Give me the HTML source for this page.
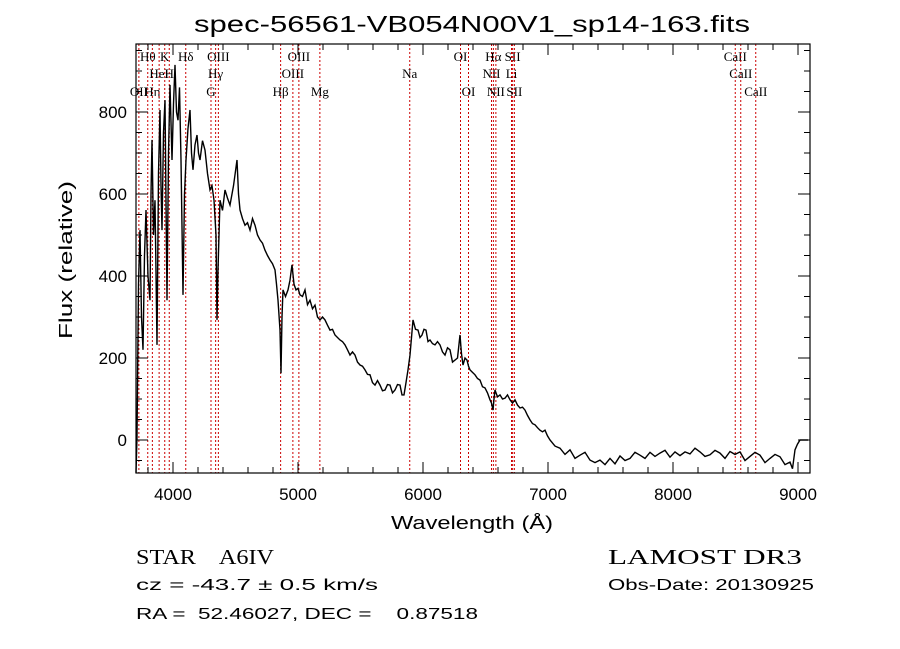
<!DOCTYPE html>
<html><head><meta charset="utf-8"><style>
body{margin:0;background:#fff}
svg{display:block}
text{fill:#000;white-space:pre}
.s{font-family:"Liberation Sans",sans-serif}
.r{font-family:"Liberation Serif",serif}
</style></head><body>
<svg id="chart" width="900" height="649" xmlns="http://www.w3.org/2000/svg" xml:space="preserve">
<rect width="900" height="649" fill="#fff"/>
<text class="s" x="472" y="32" font-size="23" text-anchor="middle" textLength="556" lengthAdjust="spacingAndGlyphs">spec-56561-VB054N00V1_sp14-163.fits</text>
<g id="lines"></g>
<g id="axes"></g>
<path id="spec" fill="none" stroke="#000" stroke-width="1.4" stroke-linejoin="miter"/>
<rect x="136" y="44" width="674" height="429" fill="none" stroke="#000" stroke-width="1.2"/>
<text class="s" x="472" y="529" font-size="18" text-anchor="middle" textLength="162" lengthAdjust="spacingAndGlyphs">Wavelength (Å)</text>
<text class="s" transform="translate(72,260) rotate(-90)" font-size="18" text-anchor="middle" textLength="158" lengthAdjust="spacingAndGlyphs">Flux (relative)</text>
<text class="r" x="136" y="564" font-size="21" textLength="138" lengthAdjust="spacingAndGlyphs">STAR    A6IV</text>
<text class="s" x="136" y="590" font-size="16" textLength="242" lengthAdjust="spacingAndGlyphs">cz = -43.7 ± 0.5 km/s</text>
<text class="s" x="136" y="619" font-size="16" textLength="342" lengthAdjust="spacingAndGlyphs">RA =  52.46027, DEC =    0.87518</text>
<text class="r" x="608" y="564" font-size="21" textLength="194" lengthAdjust="spacingAndGlyphs">LAMOST DR3</text>
<text class="s" x="608" y="590" font-size="16" textLength="206" lengthAdjust="spacingAndGlyphs">Obs-Date: 20130925</text>
</svg>
<script>
const wave=[3704,3712,3724,3736,3748,3760,3772,3784,3800,3816,3824,3832,3844,3856,3872,3884,3896,3904,3912,3924,3936,3952,3964,3976,3992,4004,4016,4028,4040,4052,4064,4080,4092,4104,4120,4136,4148,4160,4176,4192,4204,4216,4236,4256,4276,4296,4312,4328,4344,4352,4360,4376,4396,4416,4436,4456,4484,4512,4524,4536,4556,4576,4596,4616,4636,4656,4676,4696,4716,4736,4756,4776,4796,4816,4828,4840,4856,4864,4872,4880,4900,4920,4936,4952,4968,4984,5000,5016,5036,5056,5076,5096,5116,5136,5156,5176,5196,5216,5236,5256,5276,5296,5316,5336,5356,5376,5396,5416,5436,5456,5476,5496,5516,5536,5556,5576,5596,5616,5636,5656,5676,5696,5716,5736,5756,5776,5796,5816,5832,5848,5864,5880,5896,5920,5940,5960,5976,5992,6008,6024,6040,6056,6076,6096,6116,6136,6156,6176,6196,6216,6236,6256,6276,6296,6308,6320,6336,6352,6364,6376,6396,6416,6436,6456,6476,6496,6516,6536,6548,6560,6568,6576,6596,6616,6636,6656,6676,6696,6716,6736,6756,6776,6796,6816,6836,6856,6876,6896,6916,6936,6956,6976,6996,7016,7056,7096,7136,7176,7216,7256,7296,7336,7376,7416,7456,7496,7536,7576,7616,7656,7696,7736,7776,7816,7856,7896,7936,7976,8016,8056,8096,8136,8176,8216,8256,8296,8336,8376,8416,8456,8496,8536,8576,8616,8656,8696,8736,8776,8816,8856,8896,8936,8956,8976,8996,9016,9080];
const flux=[-80,7,380,512,300,220,450,561,400,341,600,732,500,585,232,650,805,620,512,750,829,341,700,866,683,820,915,800,780,860,683,354,600,683,760,805,700,659,720,744,700,683,730,707,650,610,620,585,500,293,415,585,560,610,590,573,620,683,600,561,540,524,530,512,540,524,500,488,480,463,450,439,430,415,380,341,268,163,300,366,350,366,390,427,380,366,370,354,350,366,330,341,320,329,300,293,300,293,280,268,270,256,250,244,240,232,220,207,215,207,190,183,180,171,160,159,140,134,145,134,120,122,135,134,115,122,135,134,110,110,140,171,207,293,270,268,250,256,270,268,240,244,235,232,240,232,215,207,225,220,190,195,200,256,210,183,200,195,180,171,165,159,150,146,130,127,115,98,90,73,100,122,105,110,100,102,110,98,90,98,85,78,80,73,60,49,40,37,30,24,20,24,10,0,-15,-20,-35,-24,-45,-37,-30,-49,-55,-49,-60,-45,-58,-39,-50,-45,-30,-37,-45,-30,-40,-32,-25,-42,-29,-38,-29,-34,-20,-29,-40,-36,-25,-32,-45,-28,-35,-29,-50,-40,-30,-37,-55,-45,-35,-41,-60,-54,-70,-24,-10,0,0];
const lineWave=[3727,3798,3835,3889,3934,3970,4102,4304,4341,4363,4861,4959,5007,5175,5894,6300,6364,6548,6563,6583,6708,6717,6731,8498,8542,8662];
const lineLabel=["OII","Hθ","Hη","HeI","K","H","Hδ","G","Hγ","OIII","Hβ","OIII","OIII","Mg","Na","OI","OI","NII","Hα","NII","Li","SII","SII","CaII","CaII","CaII"];
const lineRow=[2,0,2,1,0,1,0,2,1,0,2,1,0,2,1,0,2,1,0,2,1,0,2,0,1,2];
const xTicks=[4000,5000,6000,7000,8000,9000];
const yTicks=[0,200,400,600,800];
const X0=136,X1=810,Y0=44,Y1=473;
const xs=w=>173+(w-4000)*0.125;
const ys=f=>440-f*0.41;
const NS="http://www.w3.org/2000/svg";
let d="";
for(let i=0;i<wave.length;i++){d+=(i?"L":"M")+Math.max(X0,Math.min(X1,xs(wave[i]))).toFixed(1)+","+Math.max(Y0,Math.min(Y1,ys(flux[i]))).toFixed(1);}
document.getElementById("spec").setAttribute("d",d);
const lg=document.getElementById("lines");
const rowY=[61,78,96];
for(let i=0;i<lineWave.length;i++){
 const x=xs(lineWave[i]);
 const l=document.createElementNS(NS,"line");
 
 
 l.setAttribute("x1",x);l.setAttribute("x2",x);l.setAttribute("y1",Y0);l.setAttribute("y2",Y1);
 l.setAttribute("stroke","#c00");l.setAttribute("stroke-width","1");l.setAttribute("stroke-dasharray","2,2");
 lg.appendChild(l);
 const t=document.createElementNS(NS,"text");
 
 
 t.setAttribute("class","r");
 t.setAttribute("x",x);t.setAttribute("y",rowY[lineRow[i]]);t.setAttribute("font-size","13");
 t.setAttribute("text-anchor","middle");
 t.textContent=lineLabel[i];lg.appendChild(t);
}
const ag=document.getElementById("axes");
function ln(x1,y1,x2,y2){const l=document.createElementNS(NS,"line");
 
 
 l.setAttribute("x1",x1);l.setAttribute("y1",y1);l.setAttribute("x2",x2);l.setAttribute("y2",y2);l.setAttribute("stroke","#000");ag.appendChild(l);}
for(let w=3800;w<=9000;w+=200){const x=xs(w);const L=(w%1000===0)?11:6;ln(x,Y1,x,Y1-L);ln(x,Y0,x,Y0+L);}
for(let f=-50;f<=950;f+=50){const y=ys(f);const L=(f%200===0)?12:6;ln(X0,y,X0+L,y);ln(X1,y,X1-L,y);}
xTicks.forEach(w=>{const t=document.createElementNS(NS,"text");
 
 
 t.setAttribute("class","s");
 t.setAttribute("x",xs(w));t.setAttribute("y",500);t.setAttribute("font-size","17");t.setAttribute("text-anchor","middle");t.textContent=w;ag.appendChild(t);});
yTicks.forEach(f=>{const t=document.createElementNS(NS,"text");
 
 
 t.setAttribute("class","s");
 t.setAttribute("x",127);t.setAttribute("y",ys(f)+6);t.setAttribute("font-size","17");t.setAttribute("text-anchor","end");t.textContent=f;ag.appendChild(t);});
</script>
</body></html>
